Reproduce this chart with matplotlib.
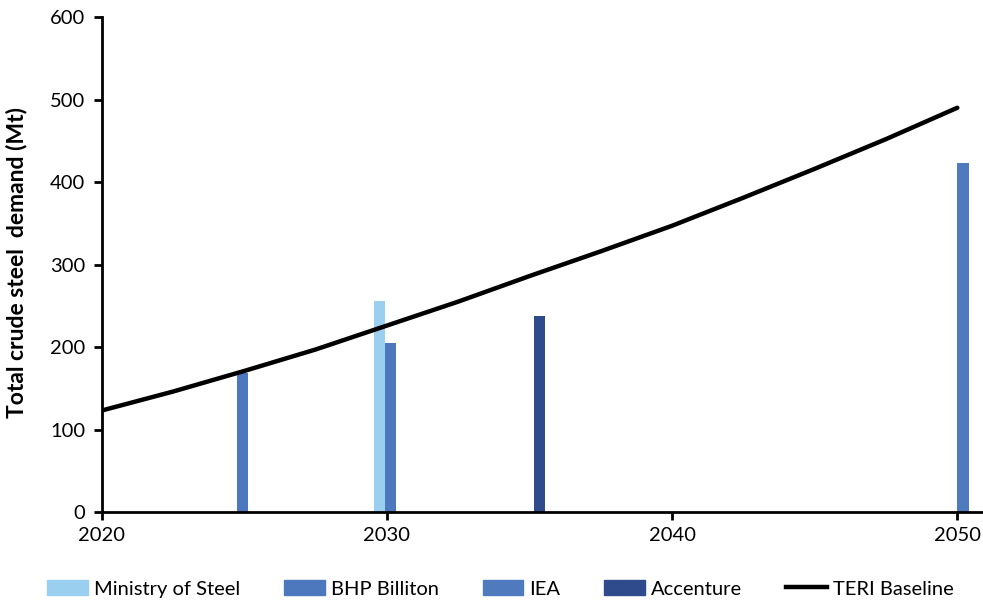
import matplotlib.pyplot as plt
from matplotlib.patches import Patch
from matplotlib.lines import Line2D

plt.rcParams['font.family'] = ['Lato', 'DejaVu Sans']

# bar series (x = year as placed on the chart, y = Mt)
ministry_x = [2029.75]
ministry_y = [256]
bhp_x = [2024.93, 2030.13]
bhp_y = [169, 205]
iea_x = [2050.2]
iea_y = [423]
accenture_x = [2035.35]
accenture_y = [238]

# TERI baseline
teri_years = [2020, 2022.5, 2025, 2027.5, 2030, 2032.5, 2035,
              2037.5, 2040, 2042.5, 2045, 2047.5, 2050]
teri_vals = [123, 146, 171, 197, 226, 255, 286, 316, 347, 381, 416, 452, 490]

c_ministry = '#9ACFEF'
c_bhp = '#4E78BD'
c_iea = '#4F7BBE'
c_acc = '#2F4B8C'

fs = 14.5

fig = plt.figure(figsize=(9.83, 6.05), dpi=100)
ax = fig.add_axes([0.1035, 0.1537, 0.8965, 0.8182])

w = 0.39
ax.bar(ministry_x, ministry_y, width=w, color=c_ministry, zorder=2)
ax.bar(bhp_x, bhp_y, width=w, color=c_bhp, zorder=2)
ax.bar(iea_x, iea_y, width=w, color=c_iea, zorder=2)
ax.bar(accenture_x, accenture_y, width=w, color=c_acc, zorder=2)
ax.plot(teri_years, teri_vals, color='black', lw=3.2,
        solid_capstyle='round', zorder=3)

ax.set_xlim(2020, 2050.9)
ax.set_ylim(0, 600)
ax.set_xticks([2020, 2030, 2040, 2050])
ax.set_yticks(range(0, 601, 100))
for s in ['top', 'right']:
    ax.spines[s].set_visible(False)
for s in ['left', 'bottom']:
    ax.spines[s].set_linewidth(2)
ax.tick_params(axis='both', direction='out', width=2, length=6,
               labelsize=fs, colors='black')
ax.tick_params(axis='y', pad=6)
ax.tick_params(axis='x', pad=5)
ax.set_ylabel('Total crude steel  demand (Mt)', fontsize=16.5,
              fontweight='bold')
ax.yaxis.set_label_coords(-0.084, 0.504)

handles = [
    Patch(color=c_ministry, label='Ministry of Steel'),
    Patch(color=c_bhp, label='BHP Billiton'),
    Patch(color=c_iea, label='IEA'),
    Patch(color=c_acc, label='Accenture'),
    Line2D([], [], color='black', lw=3.2, label='TERI Baseline'),
]
fig.legend(handles=handles, loc='lower center', bbox_to_anchor=(0.509, -0.018),
           ncol=5, frameon=False, fontsize=fs, handlelength=2.0,
           handleheight=0.8, columnspacing=2.2, handletextpad=0.3)

fig.savefig('out.png', dpi=100)
